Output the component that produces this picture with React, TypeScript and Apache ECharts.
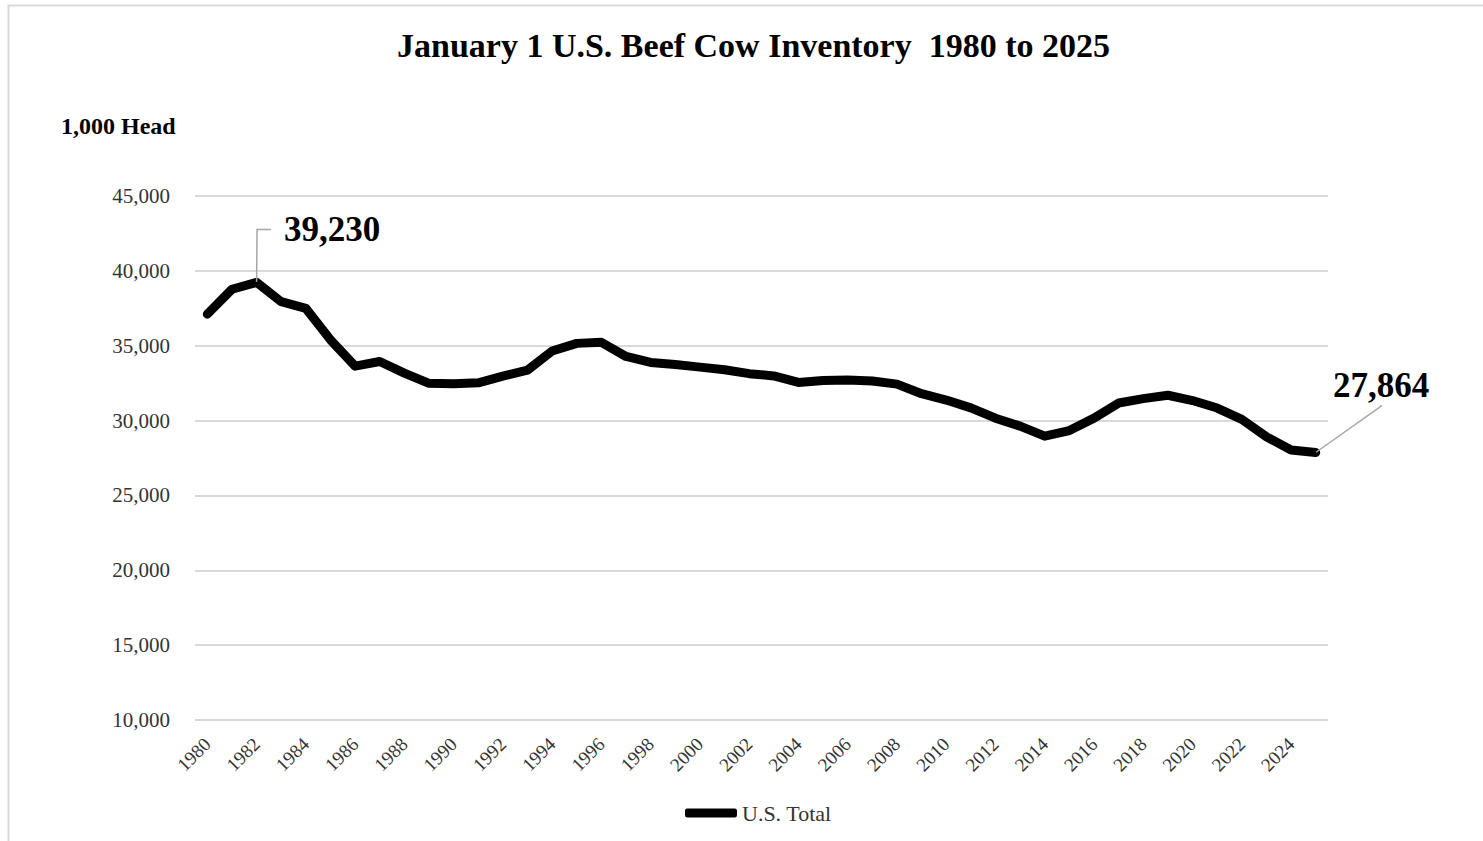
import React, { useEffect, useRef } from "react";
import * as echarts from "echarts";

const years: string[] = [];
for (let y = 1980; y <= 2025; y++) years.push(String(y));

const usTotal = [
  37107, 38773, 39230, 37940, 37494, 35393, 33633, 33945, 33173, 32488,
  32454, 32520, 32966, 33368, 34650, 35156, 35228, 34280, 33885, 33745,
  33569, 33398, 33134, 32983, 32548, 32674, 32703, 32644, 32435, 31794,
  31371, 30850, 30158, 29631, 28956, 29332, 30164, 31171, 31467, 31691,
  31338, 30836, 30078, 28918, 28030, 27864,
];

const yTicks = { min: 10000, max: 45000, interval: 5000 };

// label offsets / paddings for the two annotated points
const highlighted: Record<
  string,
  { dx: number; dy: number; padding: number[]; length2: number; align: string }
> = {
  "1982": { dx: 9, dy: -53, padding: [0, 0, 0, 13], length2: 14, align: "left" },
  "2025": { dx: 60, dy: -67, padding: [0, 100, 4, 100], length2: 1, align: "center" },
};

const SERIF = "'Liberation Serif', 'Times New Roman', serif";

export default function App() {
  const ref = useRef<HTMLDivElement>(null);
  useEffect(() => {
    document.body.style.margin = "0";
    const chart = echarts.init(ref.current!, undefined, { renderer: "svg" });
    const fmt = (v: number) => v.toLocaleString("en-US");
    chart.setOption({
      animation: false,
      backgroundColor: "#ffffff",
      textStyle: { fontFamily: SERIF },
      title: {
        text: "January 1 U.S. Beef Cow Inventory  1980 to 2025",
        left: 392,
        top: 23,
        textStyle: { fontFamily: SERIF, fontSize: 34, fontWeight: "bold", color: "#000" },
      },
      graphic: [
        {
          type: "rect",
          left: 6,
          top: 3,
          shape: { width: 1500, height: 860 },
          style: { fill: "none", stroke: "#d9d9d9", lineWidth: 2 },
          silent: true,
          z: -1,
        },
      ],
      grid: { left: 195, right: 155, top: 196, bottom: 121, containLabel: false },
      legend: {
        left: 680,
        top: 797,
        itemWidth: 52,
        itemHeight: 9,
        data: [{ name: "U.S. Total", icon: "roundRect" }],
        textStyle: { fontFamily: SERIF, fontSize: 22, color: "#333" },
      },
      xAxis: {
        type: "category",
        data: years,
        boundaryGap: true,
        axisLine: { show: false },
        axisTick: { show: false },
        axisLabel: {
          interval: 1,
          rotate: 45,
          margin: 21,
          fontFamily: SERIF,
          fontSize: 19,
          color: "#333",
        },
      },
      yAxis: {
        type: "value",
        min: yTicks.min,
        max: yTicks.max,
        interval: yTicks.interval,
        name: "1,000 Head",
        nameLocation: "end",
        nameGap: 58,
        nameTextStyle: {
          fontFamily: SERIF,
          fontSize: 24,
          fontWeight: "bold",
          color: "#000",
          align: "left",
          padding: [0, 0, 0, -134],
        },
        axisLine: { show: false },
        axisTick: { show: false },
        splitLine: { lineStyle: { color: "#d9d9d9", width: 2 } },
        axisLabel: {
          margin: 25,
          fontFamily: SERIF,
          fontSize: 21,
          color: "#333",
          formatter: (v: number) => fmt(v),
        },
      },
      series: [
        {
          name: "U.S. Total",
          type: "line",
          symbol: "circle",
          symbolSize: 1,
          showSymbol: true,
          itemStyle: { color: "#000" },
          lineStyle: { color: "#000", width: 9, cap: "round", join: "round" },
          data: usTotal.map((v, i) => {
            const h = highlighted[years[i]];
            if (h) {
              return {
                value: v,
                label: {
                  show: true,
                  position: "right",
                  align: h.align,
                  padding: h.padding,
                  backgroundColor: "rgba(255,255,255,0)",
                  formatter: (p: any) => fmt(p.value),
                  fontFamily: SERIF,
                  fontSize: 35,
                  fontWeight: "bold",
                  color: "#000",
                },
                labelLine: {
                  show: true,
                  length2: h.length2,
                  minTurnAngle: 0,
                  lineStyle: { color: "#a6a6a6", width: 1.5 },
                },
              };
            }
            return v;
          }),
          labelLayout: (params: any) => {
            const h = highlighted[years[params.dataIndex]];
            if (!h) return {};
            return { dx: h.dx, dy: h.dy };
          },
        },
      ],
    });
    return () => chart.dispose();
  }, []);
  return <div ref={ref} style={{ width: 1483, height: 841 }} />;
}
